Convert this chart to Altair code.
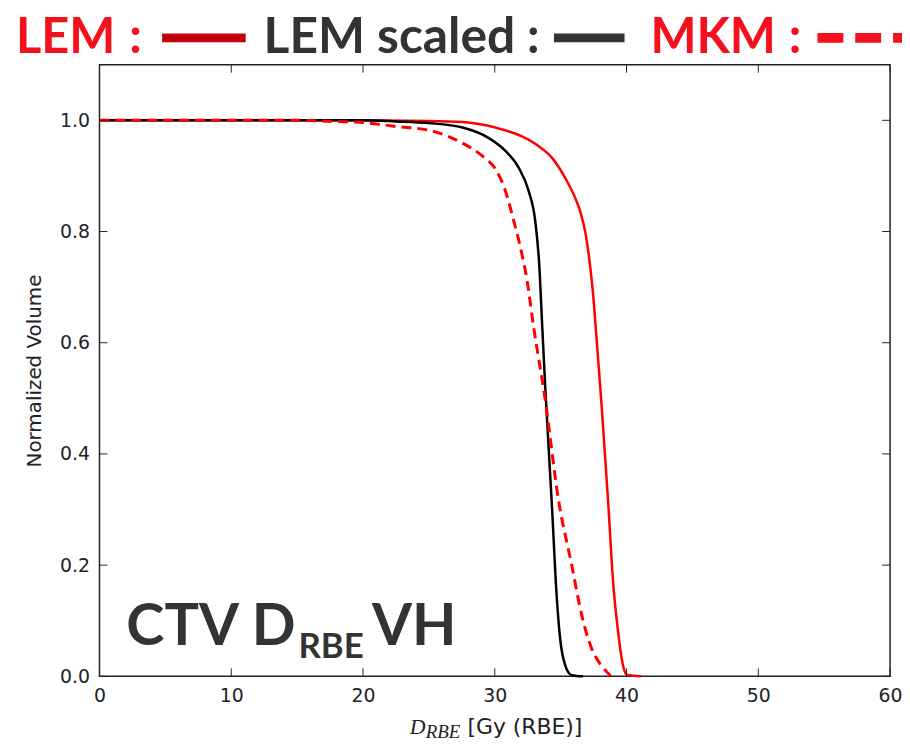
import altair as alt
import pandas as pd

# ---- data ----
lem_x = [0, 10, 20, 25, 27.55, 30.06, 32.07, 33.3, 34.33, 35.33, 36.09, 36.5, 36.9, 37.2, 37.45, 37.7, 38.1, 38.6, 38.98, 39.36, 39.73, 40.0, 40.5, 41.1]
lem_y = [1.0, 1.0, 1.0, 0.999, 0.997, 0.987, 0.971, 0.954, 0.933, 0.897, 0.861, 0.835, 0.795, 0.745, 0.69, 0.615, 0.49, 0.315, 0.17, 0.08, 0.02, 0.003, 0.001, 0.0]

scaled_x = [0, 10, 20, 22.5, 25, 27.55, 29.55, 30.81, 31.81, 32.57, 33.07, 33.37, 33.6, 33.83, 34.33, 34.71, 34.96, 35.34, 35.84, 36.7]
scaled_y = [1.0, 1.0, 1.0, 0.998, 0.995, 0.987, 0.968, 0.945, 0.915, 0.873, 0.819, 0.742, 0.63, 0.52, 0.31, 0.14, 0.068, 0.02, 0.002, 0.0]

mkm_x = [0, 10, 15, 18, 20, 22.5, 25.03, 27.55, 29.05, 30.06, 30.81, 31.44, 31.94, 32.45, 32.95, 33.83, 34.83, 35.84, 36.6, 37.35, 38.0, 38.5, 38.8]
mkm_y = [1.0, 1.0, 1.0, 0.998, 0.996, 0.989, 0.982, 0.959, 0.936, 0.912, 0.873, 0.819, 0.772, 0.712, 0.628, 0.497, 0.318, 0.2, 0.11, 0.05, 0.022, 0.008, 0.0]

x_ticks = [0, 10, 20, 30, 40, 50, 60]
y_ticks = [0.0, 0.2, 0.4, 0.6, 0.8, 1.0]

W, H = 795, 615
RED = "#ff0000"
HRED = "#f5101e"
GRAY = "#333333"
TXT = "#222222"

xs = alt.Scale(domain=[0, 60], nice=False, zero=False)
ys = alt.Scale(domain=[0, 1.1], nice=False, zero=False)

x_axis = alt.Axis(values=x_ticks, title="", ticks=False, domain=False, grid=False, labelFlush=False,
                  labelFont="DejaVu Sans", labelFontSize=19, labelColor=TXT, labelPadding=10)
y_axis = alt.Axis(values=y_ticks, format=".1f", title="Normalized Volume", ticks=False, domain=False,
                  grid=False, labelFlush=False, labelFont="DejaVu Sans", labelFontSize=19, labelColor=TXT,
                  labelPadding=10, titleFont="DejaVu Sans", titleFontSize=20, titleFontWeight="normal",
                  titleColor=TXT, titlePadding=15)


def X(field):
    return alt.X(field, scale=xs, axis=x_axis)


def Y(field):
    return alt.Y(field, scale=ys, axis=y_axis)


def curve(xv, yv, color, width, dash=None):
    df = pd.DataFrame({"x": xv, "y": yv})
    kw = dict(color=color, strokeWidth=width, interpolate="monotone")
    if dash:
        kw["strokeDash"] = dash
    return alt.Chart(df).mark_line(**kw).encode(x=X("x:Q"), y=Y("y:Q"))


one = pd.DataFrame({"a": [0]})


def txt(text, x, y, size, color, font="Lato", weight="bold", style="normal"):
    return alt.Chart(one).mark_text(text=text, align="left", baseline="alphabetic", font=font,
                                    fontSize=size, fontWeight=weight, fontStyle=style,
                                    color=color).encode(x=alt.value(x), y=alt.value(y))


def hrule(x1, x2, y, color, width, dash=None):
    kw = dict(color=color, strokeWidth=width, strokeCap="butt")
    if dash:
        kw["strokeDash"] = dash
    return alt.Chart(one).mark_rule(**kw).encode(x=alt.value(x1), x2=alt.value(x2), y=alt.value(y))


tx = pd.DataFrame({"x": x_ticks})
ty = pd.DataFrame({"y": y_ticks})
tick_bottom = alt.Chart(tx).mark_rule(color=TXT, strokeWidth=1).encode(
    x=X("x:Q"), y=alt.value(H), y2=alt.value(H - 8))
tick_top = alt.Chart(tx).mark_rule(color=TXT, strokeWidth=1).encode(
    x=X("x:Q"), y=alt.value(0), y2=alt.value(8))
tick_left = alt.Chart(ty).mark_rule(color=TXT, strokeWidth=1).encode(
    y=Y("y:Q"), x=alt.value(0), x2=alt.value(8))
tick_right = alt.Chart(ty).mark_rule(color=TXT, strokeWidth=1).encode(
    y=Y("y:Q"), x=alt.value(W), x2=alt.value(W - 8))

layers = [
    curve(lem_x, lem_y, RED, 2.5),
    curve(scaled_x, scaled_y, "#000000", 2.5),
    curve(mkm_x, mkm_y, RED, 3, dash=[10, 6]),
    tick_bottom, tick_top, tick_left, tick_right,
    # header legend
    txt("LEM", -84, -12, 49, HRED),
    txt(":", 30, -12, 49, HRED),
    hrule(63, 147, -27, "#c0000f", 9),
    txt("LEM scaled", 165, -12, 50, GRAY),
    txt(":", 430, -12, 49, GRAY),
    hrule(457, 528, -27, GRAY, 9),
    txt("MKM", 554, -12, 49, HRED),
    txt(":", 693, -12, 49, HRED),
    hrule(722, 812, -27, HRED, 10, dash=[26, 12]),
    # in-plot annotation
    txt("CTV", 27, 584, 58, GRAY),
    txt("D", 153, 584, 58, GRAY),
    txt("RBE", 200, 597, 35, GRAY),
    txt("VH", 274, 584, 58, GRAY),
    # x axis title
    txt("D", 312, 673, 22, TXT, font="Liberation Serif", weight="normal", style="italic"),
    txt("RBE", 328, 677, 19, TXT, font="Liberation Serif", weight="normal", style="italic"),
    txt("[Gy (RBE)]", 370, 673, 22, TXT, font="DejaVu Sans", weight="normal"),
]

chart = alt.layer(*layers).properties(
    width=W, height=H,
    autosize=alt.AutoSizeParams(type="none"),
    padding={"left": 92, "top": 55, "right": 12, "bottom": 62},
).configure_view(stroke=TXT, strokeWidth=1.5)

chart.save("out.html", embed_options={"renderer": "svg", "actions": False})
